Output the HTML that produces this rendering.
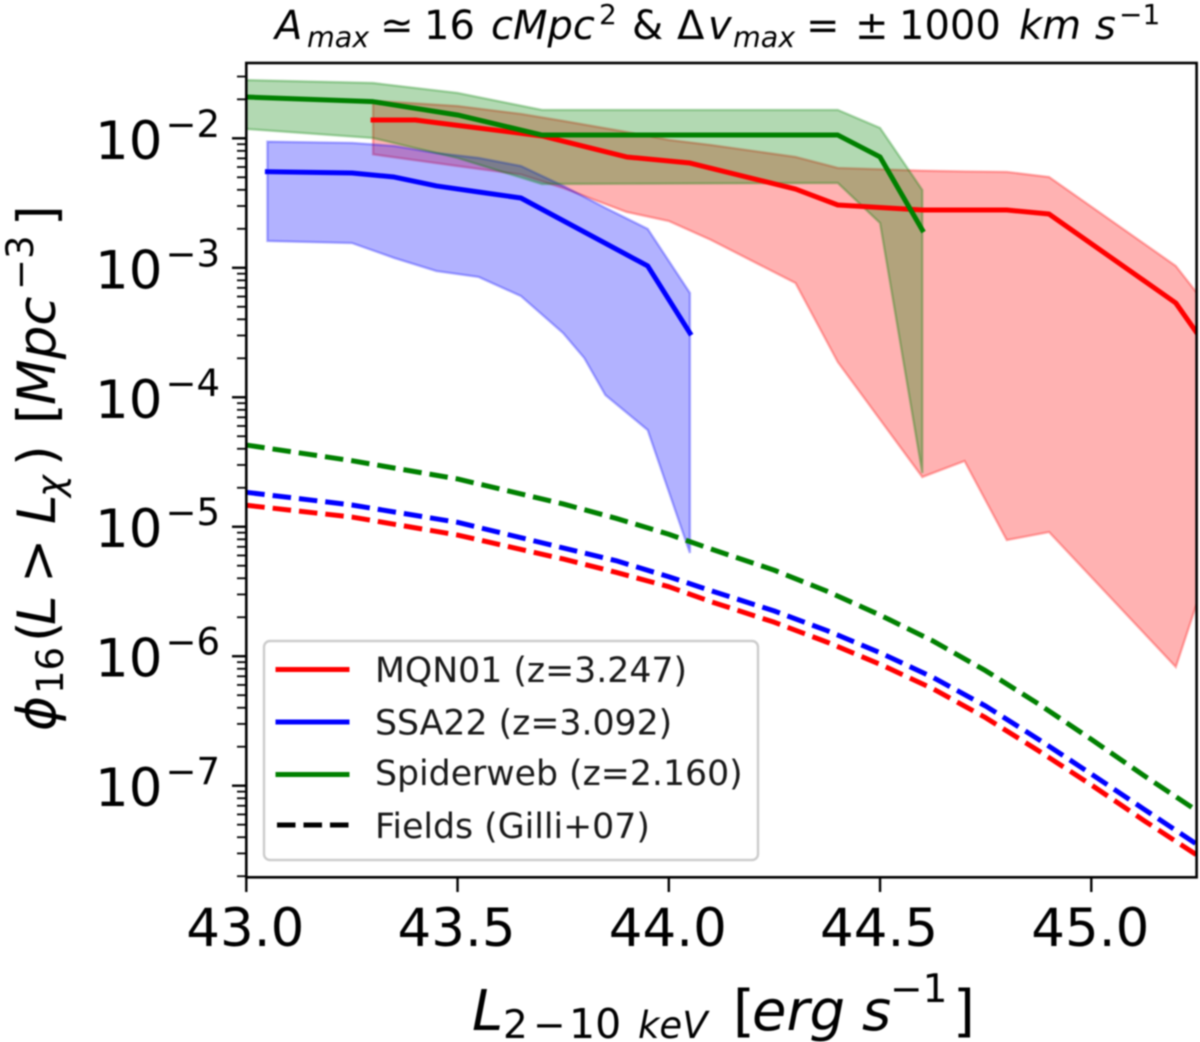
<!DOCTYPE html>
<html lang="en">
<head>
<meta charset="utf-8">
<title>Cumulative X-ray luminosity function</title>
<style>
html,body{margin:0;padding:0;background:#fff;width:1200px;height:1042px;overflow:hidden}
svg{display:block;filter:blur(0.8px)}
text{font-family:"DejaVu Sans","Liberation Sans",sans-serif;fill:#000}
.it{font-style:italic}
</style>
</head>
<body>
<svg id="chart" xmlns="http://www.w3.org/2000/svg" width="1200" height="1042" viewBox="0 0 1200 1042">
  <defs><clipPath id="plot-clip"><rect x="246.3" y="63" width="950.3" height="814.3"/></clipPath></defs>
  <rect x="246.3" y="63" width="950.3" height="814.3" fill="#fff"/>
  <g id="bands" clip-path="url(#plot-clip)"></g>
  <g id="fields" clip-path="url(#plot-clip)"></g>
  <g id="lines" clip-path="url(#plot-clip)"></g>
  <g id="ticks"></g>
  <rect x="246.3" y="63" width="950.3" height="814.3" fill="none" stroke="#000" stroke-width="2.6"/>

  <text y="39" font-size="40"><tspan class="it" x="275">A</tspan><tspan class="it" x="307" y="47" font-size="28.5">max</tspan><tspan x="380" y="39">≃</tspan><tspan x="424">16</tspan><tspan class="it" x="491">cMpc</tspan><tspan x="599" y="24" font-size="28">2</tspan><tspan x="632" y="39">&amp;</tspan><tspan x="677">Δ</tspan><tspan class="it" x="708">v</tspan><tspan class="it" x="733" y="47" font-size="28.5">max</tspan><tspan x="806" y="39">=</tspan><tspan x="855">±</tspan><tspan x="899">1000</tspan><tspan class="it" x="1019">km</tspan><tspan class="it" x="1095">s</tspan><tspan x="1119" y="24" font-size="28">−1</tspan></text>

  <text y="1030" font-size="56"><tspan class="it" x="472">L</tspan><tspan x="503" y="1038" font-size="39">2</tspan><tspan x="533" y="1038" font-size="39">−</tspan><tspan x="569" y="1038" font-size="41">10</tspan><tspan class="it" x="638" y="1038" font-size="37">keV</tspan><tspan x="733" y="1030">[</tspan><tspan class="it" x="752">erg</tspan><tspan class="it" x="862">s</tspan><tspan x="890" y="1002" font-size="39">−1</tspan><tspan x="953" y="1030">]</tspan></text>

  <text transform="rotate(-90)" y="55" font-size="53"><tspan class="it" x="-731">ϕ</tspan><tspan x="-694" y="63" font-size="37">16</tspan><tspan x="-642" y="55">(</tspan><tspan class="it" x="-625">L</tspan><tspan x="-583">&gt;</tspan><tspan class="it" x="-524">L</tspan><tspan class="it" x="-497" y="63" font-size="37">χ</tspan><tspan x="-466" y="55">)</tspan><tspan x="-424">[</tspan><tspan class="it" x="-405">Mpc</tspan><tspan x="-290" y="33" font-size="37">−3</tspan><tspan x="-226" y="55">]</tspan></text>

  <g>
    <rect x="264" y="641" width="494" height="219" rx="6" ry="6" fill="#fff" fill-opacity="0.8" stroke="#ccc" stroke-width="2.4"/>
    <g>
      <line x1="275.5" x2="349.5" y1="669.5" y2="669.5" stroke="#f00" stroke-width="5"/>
      <text x="375" y="682" font-size="34.7" fill-opacity="0.9">MQN01 (z=3.247)</text>
    </g>
    <g>
      <line x1="275.5" x2="349.5" y1="722" y2="722" stroke="#00f" stroke-width="5"/>
      <text x="375" y="734.5" font-size="34.7" fill-opacity="0.9">SSA22 (z=3.092)</text>
    </g>
    <g>
      <line x1="275.5" x2="349.5" y1="774.5" y2="774.5" stroke="#008000" stroke-width="5"/>
      <text x="375" y="785" font-size="34.7" fill-opacity="0.9">Spiderweb (z=2.160)</text>
    </g>
    <g>
      <line x1="277" x2="349.5" y1="825" y2="825" stroke="#000" stroke-width="5" stroke-dasharray="18.5 8"/>
      <text x="375" y="838" font-size="34.7" fill-opacity="0.9">Fields (Gilli+07)</text>
    </g>
  </g>
</svg>
<script>
// x values are log10(L / erg s^-1); y values are log10(phi / Mpc^-3)
const xTickValues = [43, 43.5, 44, 44.5, 45];
const xTickLabels = ['43.0', '43.5', '44.0', '44.5', '45.0'];
const yTickExponents = [-2, -3, -4, -5, -6, -7];
const yTickLabels = ['−2', '−3', '−4', '−5', '−6', '−7'];
const yMinorDecades = [-2, -3, -4, -5, -6, -7, -8];
const yMinorMultiples = [2, 3, 4, 5, 6, 7, 8, 9];

const mqn01LineX = [43.3, 43.4, 43.5, 43.7, 43.9, 44.05, 44.3, 44.4, 44.6, 44.8, 44.9, 45.2, 45.25];
const mqn01LineY = [-1.859, -1.859, -1.9, -1.982, -2.144, -2.191, -2.392, -2.515, -2.554, -2.554, -2.585, -3.272, -3.504];
const mqn01BandX = [43.3, 43.5, 43.65, 43.75, 43.9, 44, 44.1, 44.3, 44.4, 44.6, 44.7, 44.8, 44.9, 45.2, 45.25];
const mqn01BandHigh = [-1.71, -1.751, -1.812, -1.866, -1.951, -2.013, -2.052, -2.144, -2.229, -2.25, -2.256, -2.26, -2.299, -2.986, -3.195];
const mqn01BandLow = [-2.124, -2.214, -2.28, -2.384, -2.569, -2.639, -2.785, -3.118, -3.728, -4.616, -4.492, -5.103, -5.041, -6.083, -5.589];

const ssa22LineX = [43.05, 43.25, 43.35, 43.45, 43.55, 43.65, 43.95, 44.05];
const ssa22LineY = [-2.258, -2.268, -2.299, -2.368, -2.415, -2.461, -2.986, -3.504];
const ssa22BandX = [43.05, 43.25, 43.35, 43.45, 43.55, 43.65, 43.75, 43.8, 43.85, 43.95, 44.05];
const ssa22BandHigh = [-2.026, -2.036, -2.059, -2.114, -2.152, -2.214, -2.368, -2.453, -2.538, -2.7, -3.195];
const ssa22BandLow = [-2.793, -2.809, -2.924, -3.025, -3.071, -3.218, -3.504, -3.697, -3.983, -4.253, -5.203];

const spiderwebX = [43, 43.3, 43.5, 43.7, 44.4, 44.5, 44.6];
const spiderwebLineY = [-1.681, -1.717, -1.82, -1.975, -1.975, -2.144, -2.708];
const spiderwebBandHigh = [-1.55, -1.573, -1.65, -1.781, -1.781, -1.92, -2.399];
const spiderwebBandLow = [-1.928, -1.998, -2.152, -2.353, -2.345, -2.654, -4.585];

const fieldX = [43, 43.25, 43.5, 43.75, 43.875, 44, 44.1, 44.25, 44.375, 44.5, 44.625, 44.75, 44.875, 45, 45.125, 45.25];
const fieldMqn01Y = [-4.834, -4.925, -5.064, -5.249, -5.352, -5.463, -5.579, -5.738, -5.892, -6.062, -6.251, -6.475, -6.73, -6.994, -7.27, -7.536];
const fieldSsa22Y = [-4.734, -4.832, -4.966, -5.164, -5.262, -5.386, -5.494, -5.651, -5.803, -5.973, -6.163, -6.385, -6.642, -6.91, -7.182, -7.453];
const fieldSpiderwebY = [-4.369, -4.49, -4.631, -4.824, -4.935, -5.058, -5.172, -5.336, -5.499, -5.682, -5.882, -6.112, -6.369, -6.642, -6.923, -7.193];

const NS = 'http://www.w3.org/2000/svg';
function xAxis(v) { return 246.3 + (v - 43) * 422.5; }
function yAxis(v) { return 138.3 + (-2 - v) * 129.48; }
function mk(parent, tag, attrs, name) {
  const el = document.createElementNS(NS, tag);
  for (const k in attrs) el.setAttribute(k, attrs[k]);
  
  
  parent.appendChild(el);
  return el;
}
function pts(xs, ys) { return xs.map((x, i) => xAxis(x).toFixed(2) + ',' + yAxis(ys[i]).toFixed(2)); }

const bands = document.getElementById('bands');
const fields = document.getElementById('fields');
const lines = document.getElementById('lines');
const ticks = document.getElementById('ticks');

function band(xs, hi, lo, color, name) {
  const p = pts(xs, hi).concat(pts(xs, lo).reverse()).join(' ');
  mk(bands, 'polygon', { points: p, fill: color, 'fill-opacity': 0.3, stroke: color, 'stroke-opacity': 0.3, 'stroke-width': 2.4, 'stroke-linejoin': 'miter' }, name);
}
function line(xs, ys, color, name) {
  mk(lines, 'polyline', { points: pts(xs, ys).join(' '), fill: 'none', stroke: color, 'stroke-width': 5, 'stroke-linejoin': 'round', 'stroke-linecap': 'square' }, name);
}
function dashed(xs, ys, color, name) {
  mk(fields, 'polyline', { points: pts(xs, ys).join(' '), fill: 'none', stroke: color, 'stroke-width': 5, 'stroke-dasharray': '18.5 8', 'stroke-linejoin': 'round' }, name);
}

band(mqn01BandX, mqn01BandHigh, mqn01BandLow, '#ff0000', 'band-mqn01');
band(ssa22BandX, ssa22BandHigh, ssa22BandLow, '#0000ff', 'band-ssa22');
band(spiderwebX, spiderwebBandHigh, spiderwebBandLow, '#008000', 'band-spiderweb');

dashed(fieldX, fieldMqn01Y, '#ff0000', 'field-curve-mqn01');
dashed(fieldX, fieldSsa22Y, '#0000ff', 'field-curve-ssa22');
dashed(fieldX, fieldSpiderwebY, '#008000', 'field-curve-spiderweb');

line(mqn01LineX, mqn01LineY, '#ff0000', 'line-mqn01');
line(ssa22LineX, ssa22LineY, '#0000ff', 'line-ssa22');
line(spiderwebX, spiderwebLineY, '#008000', 'line-spiderweb');

xTickValues.forEach((v, i) => {
  const x = xAxis(v);
  mk(ticks, 'line', { x1: x, x2: x, y1: 877.3, y2: 892, stroke: '#000', 'stroke-width': 2.4 }, 'x-tick');
  const t = mk(ticks, 'text', { x: x - 1, y: 946, 'font-size': 53, 'text-anchor': 'middle' }, 'x-tick-label');
  t.textContent = xTickLabels[i];
});

yTickExponents.forEach((e, i) => {
  const y = yAxis(e);
  mk(ticks, 'line', { x1: 232, x2: 246.3, y1: y, y2: y, stroke: '#000', 'stroke-width': 2.4 }, 'y-tick');
  const t = mk(ticks, 'text', { x: 95, y: y + 20.5, 'font-size': 53 }, 'y-tick-label');
  t.appendChild(document.createTextNode('10'));
  const s = document.createElementNS(NS, 'tspan');
  s.setAttribute('dy', '-22');
  s.setAttribute('dx', '3');
  s.setAttribute('font-size', '37');
  s.textContent = yTickLabels[i];
  t.appendChild(s);
});

yMinorDecades.forEach(d => {
  yMinorMultiples.forEach(m => {
    const y = yAxis(d + Math.log10(m));
    if (y < 63 || y > 877.5) return;
    mk(ticks, 'line', { x1: 237, x2: 246.3, y1: y, y2: y, stroke: '#000', 'stroke-width': 1.8 }, 'y-minor-tick');
  });
});
</script>
</body>
</html>
